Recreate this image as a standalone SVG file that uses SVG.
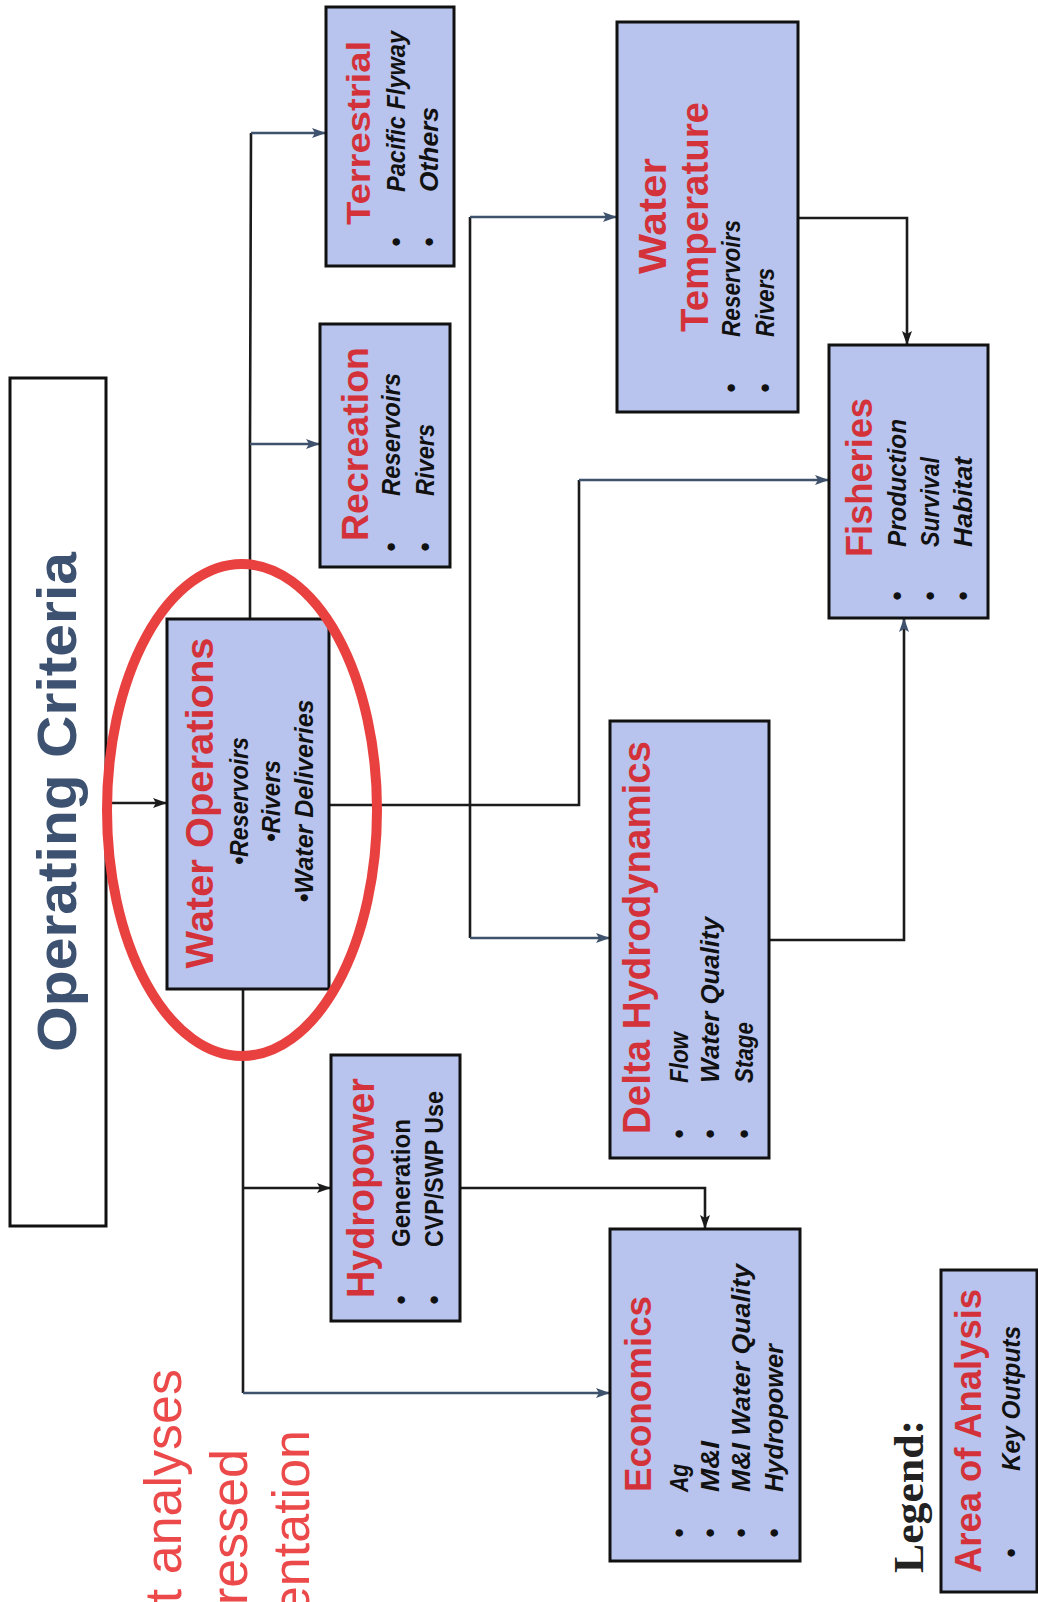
<svg xmlns="http://www.w3.org/2000/svg" width="1038" height="1602" viewBox="0 0 1038 1602">
  <style>
    .box { fill: #b8c4ed; stroke: #111; stroke-width: 3; }
    .title { font-family: "Liberation Sans", Arial, sans-serif; font-weight: bold; fill: #d4323a; }
    .sub { font-family: "Liberation Sans", Arial, sans-serif; font-weight: bold; font-style: italic; font-size: 26px; fill: #111; }
    .subu { font-family: "Liberation Sans", Arial, sans-serif; font-weight: bold; font-size: 26px; fill: #111; }
    .dot { font-family: "Liberation Sans", Arial, sans-serif; font-weight: bold; font-size: 26px; fill: #111; text-anchor: middle; }
    .ln { fill: none; stroke: #1b1b1b; stroke-width: 2.6; }
    .lb { fill: none; stroke: #3f526d; stroke-width: 2.6; }
    .note { font-family: "Liberation Sans", Arial, sans-serif; font-size: 52px; fill: #ec4a4a; text-anchor: end; }
  </style>
  <defs>
    <marker id="ah" viewBox="0 0 14 10" refX="13" refY="5" markerWidth="14" markerHeight="10" markerUnits="userSpaceOnUse" orient="auto">
      <path d="M0,0 L14,5 L0,10 L3,5 Z" fill="#1b1b1b"/>
    </marker>
    <marker id="ahb" viewBox="0 0 14 10" refX="13" refY="5" markerWidth="14" markerHeight="10" markerUnits="userSpaceOnUse" orient="auto">
      <path d="M0,0 L14,5 L0,10 L3,5 Z" fill="#3f526d"/>
    </marker>
  </defs>

  <rect width="1038" height="1602" fill="#fff"/>

  <!-- connectors -->
  <g id="connectors">
    <line class="ln" x1="106" y1="803" x2="166" y2="803" marker-end="url(#ah)"/>
    <!-- upward trunk to Recreation / Terrestrial -->
    <polyline class="ln" points="250,620 250,444 251,133"/>
    <line class="lb" x1="250" y1="444" x2="319" y2="444" marker-end="url(#ahb)"/>
    <line class="lb" x1="251" y1="133" x2="325" y2="133" marker-end="url(#ahb)"/>
    <!-- downward trunk to Hydropower / Economics -->
    <polyline class="ln" points="243,989 243,1393"/>
    <line class="ln" x1="243" y1="1188" x2="330" y2="1188" marker-end="url(#ah)"/>
    <line class="lb" x1="243" y1="1393" x2="609" y2="1393" marker-end="url(#ahb)"/>
    <!-- right side: Water Operations to Fisheries, branch trunk to Water Temperature / Delta -->
    <polyline class="ln" points="329,805 579,805 579,480"/>
    <line class="lb" x1="579" y1="480" x2="828" y2="480" marker-end="url(#ahb)"/>
    <polyline class="ln" points="470,938 470,217"/>
    <line class="lb" x1="470" y1="217" x2="616" y2="217" marker-end="url(#ahb)"/>
    <line class="lb" x1="470" y1="938" x2="609" y2="938" marker-end="url(#ahb)"/>
    <!-- Water Temperature to Fisheries -->
    <polyline class="ln" points="798,218 907,218 907,344" marker-end="url(#ah)"/>
    <!-- Delta Hydrodynamics to Fisheries -->
    <polyline class="ln" points="769,940 904,940 904,619" marker-end="url(#ahb)"/>
    <!-- Hydropower to Economics -->
    <polyline class="ln" points="460,1188 705,1188 705,1228" marker-end="url(#ah)"/>
  </g>

  <!-- Operating Criteria -->
  <g id="operating-criteria">
    <rect x="10" y="378" width="96" height="848" fill="#fff" stroke="#111" stroke-width="3"/>
    <text transform="translate(76,802) rotate(-90)" text-anchor="middle" font-family="Liberation Sans, Arial, sans-serif" font-weight="bold" font-size="56" fill="#3d5170" textLength="500" lengthAdjust="spacingAndGlyphs">Operating Criteria</text>
  </g>

  <!-- Water Operations -->
  <g id="water-operations">
    <rect class="box" x="167" y="619" width="162" height="370"/>
    <text class="title" transform="translate(213,803) rotate(-90)" text-anchor="middle" font-size="39" textLength="331" lengthAdjust="spacingAndGlyphs">Water Operations</text>
    <text class="sub" transform="translate(248,801) rotate(-90)" text-anchor="middle" font-size="24" textLength="128" lengthAdjust="spacingAndGlyphs">•Reservoirs</text>
    <text class="sub" transform="translate(280,801) rotate(-90)" text-anchor="middle" font-size="24" textLength="82" lengthAdjust="spacingAndGlyphs">•Rivers</text>
    <text class="sub" transform="translate(313,801) rotate(-90)" text-anchor="middle" font-size="24" textLength="203" lengthAdjust="spacingAndGlyphs">•Water Deliveries</text>
  </g>

  <!-- Terrestrial -->
  <g id="terrestrial">
    <rect class="box" x="326" y="7" width="128" height="259"/>
    <text class="title" transform="translate(370,225) rotate(-90)" font-size="34" textLength="184" lengthAdjust="spacingAndGlyphs">Terrestrial</text>
    <text class="dot" transform="translate(405,242) rotate(-90)">•</text>
    <text class="dot" transform="translate(438,242) rotate(-90)">•</text>
    <text class="sub" transform="translate(405,192) rotate(-90)" textLength="161" lengthAdjust="spacingAndGlyphs">Pacific Flyway</text>
    <text class="sub" transform="translate(438,192) rotate(-90)" textLength="85" lengthAdjust="spacingAndGlyphs">Others</text>
  </g>

  <!-- Recreation -->
  <g id="recreation">
    <rect class="box" x="320" y="324" width="130" height="243"/>
    <text class="title" transform="translate(368,541) rotate(-90)" font-size="37" textLength="194" lengthAdjust="spacingAndGlyphs">Recreation</text>
    <text class="dot" transform="translate(400,547) rotate(-90)">•</text>
    <text class="dot" transform="translate(434,547) rotate(-90)">•</text>
    <text class="sub" transform="translate(400,496) rotate(-90)" textLength="123" lengthAdjust="spacingAndGlyphs">Reservoirs</text>
    <text class="sub" transform="translate(434,496) rotate(-90)" textLength="72" lengthAdjust="spacingAndGlyphs">Rivers</text>
  </g>

  <!-- Water Temperature -->
  <g id="water-temperature">
    <rect class="box" x="617" y="22" width="181" height="390"/>
    <text class="title" transform="translate(666,216) rotate(-90)" text-anchor="middle" font-size="38" textLength="116" lengthAdjust="spacingAndGlyphs">Water</text>
    <text class="title" transform="translate(708,217) rotate(-90)" text-anchor="middle" font-size="38" textLength="230" lengthAdjust="spacingAndGlyphs">Temperature</text>
    <text class="dot" transform="translate(740,388) rotate(-90)">•</text>
    <text class="dot" transform="translate(774,388) rotate(-90)">•</text>
    <text class="sub" transform="translate(740,337) rotate(-90)" textLength="117" lengthAdjust="spacingAndGlyphs">Reservoirs</text>
    <text class="sub" transform="translate(774,337) rotate(-90)" textLength="69" lengthAdjust="spacingAndGlyphs">Rivers</text>
  </g>

  <!-- Fisheries -->
  <g id="fisheries">
    <rect class="box" x="829" y="345" width="159" height="273"/>
    <text class="title" transform="translate(872,557) rotate(-90)" font-size="36" textLength="159" lengthAdjust="spacingAndGlyphs">Fisheries</text>
    <text class="dot" transform="translate(906,596) rotate(-90)">•</text>
    <text class="dot" transform="translate(939,596) rotate(-90)">•</text>
    <text class="dot" transform="translate(972,596) rotate(-90)">•</text>
    <text class="sub" transform="translate(906,547) rotate(-90)" textLength="128" lengthAdjust="spacingAndGlyphs">Production</text>
    <text class="sub" transform="translate(939,547) rotate(-90)" textLength="90" lengthAdjust="spacingAndGlyphs">Survival</text>
    <text class="sub" transform="translate(972,547) rotate(-90)" textLength="90" lengthAdjust="spacingAndGlyphs">Habitat</text>
  </g>

  <!-- Delta Hydrodynamics -->
  <g id="delta-hydrodynamics">
    <rect class="box" x="610" y="721" width="159" height="437"/>
    <text class="title" transform="translate(650,1134) rotate(-90)" font-size="38" textLength="393" lengthAdjust="spacingAndGlyphs">Delta Hydrodynamics</text>
    <text class="dot" transform="translate(688,1134) rotate(-90)">•</text>
    <text class="dot" transform="translate(719,1134) rotate(-90)">•</text>
    <text class="dot" transform="translate(753,1134) rotate(-90)">•</text>
    <text class="sub" transform="translate(688,1083) rotate(-90)" textLength="51" lengthAdjust="spacingAndGlyphs">Flow</text>
    <text class="sub" transform="translate(719,1083) rotate(-90)" textLength="166" lengthAdjust="spacingAndGlyphs">Water Quality</text>
    <text class="sub" transform="translate(753,1083) rotate(-90)" textLength="61" lengthAdjust="spacingAndGlyphs">Stage</text>
  </g>

  <!-- Hydropower -->
  <g id="hydropower">
    <rect class="box" x="331" y="1055" width="129" height="266"/>
    <text class="title" transform="translate(374,1298) rotate(-90)" font-size="38" textLength="220" lengthAdjust="spacingAndGlyphs">Hydropower</text>
    <text class="dot" transform="translate(410,1300) rotate(-90)">•</text>
    <text class="dot" transform="translate(443,1300) rotate(-90)">•</text>
    <text class="subu" transform="translate(410,1247) rotate(-90)" textLength="128" lengthAdjust="spacingAndGlyphs">Generation</text>
    <text class="subu" transform="translate(443,1247) rotate(-90)" textLength="156" lengthAdjust="spacingAndGlyphs">CVP/SWP Use</text>
  </g>

  <!-- Economics -->
  <g id="economics">
    <rect class="box" x="610" y="1229" width="190" height="332"/>
    <text class="title" transform="translate(651,1492) rotate(-90)" font-size="37" textLength="196" lengthAdjust="spacingAndGlyphs">Economics</text>
    <text class="dot" transform="translate(688,1533) rotate(-90)">•</text>
    <text class="dot" transform="translate(719,1533) rotate(-90)">•</text>
    <text class="dot" transform="translate(750,1533) rotate(-90)">•</text>
    <text class="dot" transform="translate(783,1533) rotate(-90)">•</text>
    <text class="sub" transform="translate(688,1492) rotate(-90)" textLength="28" lengthAdjust="spacingAndGlyphs">Ag</text>
    <text class="sub" transform="translate(719,1492) rotate(-90)" textLength="51" lengthAdjust="spacingAndGlyphs">M&amp;I</text>
    <text class="sub" transform="translate(750,1492) rotate(-90)" textLength="228" lengthAdjust="spacingAndGlyphs">M&amp;I Water Quality</text>
    <text class="sub" transform="translate(783,1492) rotate(-90)" textLength="148" lengthAdjust="spacingAndGlyphs">Hydropower</text>
  </g>

  <!-- Legend -->
  <g id="legend">
    <text transform="translate(923,1573) rotate(-90)" font-family="Liberation Serif, Times New Roman, serif" font-weight="bold" font-size="42" fill="#222" textLength="153" lengthAdjust="spacingAndGlyphs">Legend:</text>
    <rect class="box" x="941" y="1270" width="96" height="322"/>
    <text class="title" transform="translate(981,1573) rotate(-90)" font-size="36" textLength="284" lengthAdjust="spacingAndGlyphs">Area of Analysis</text>
    <text class="dot" transform="translate(1020,1553) rotate(-90)">•</text>
    <text class="sub" transform="translate(1020,1471) rotate(-90)" textLength="145" lengthAdjust="spacingAndGlyphs">Key Outputs</text>
  </g>

  <!-- highlight ring around Water Operations -->
  <ellipse cx="242" cy="810" rx="135" ry="246" fill="none" stroke="#e8413f" stroke-width="10"/>

  <!-- note text running off the lower edge -->
  <g id="note">
    <text class="note" transform="translate(181,1369) rotate(-90)">t analyses</text>
    <text class="note" transform="translate(247,1449) rotate(-90)">ressed</text>
    <text class="note" transform="translate(309,1430) rotate(-90)">entation</text>
  </g>
</svg>
